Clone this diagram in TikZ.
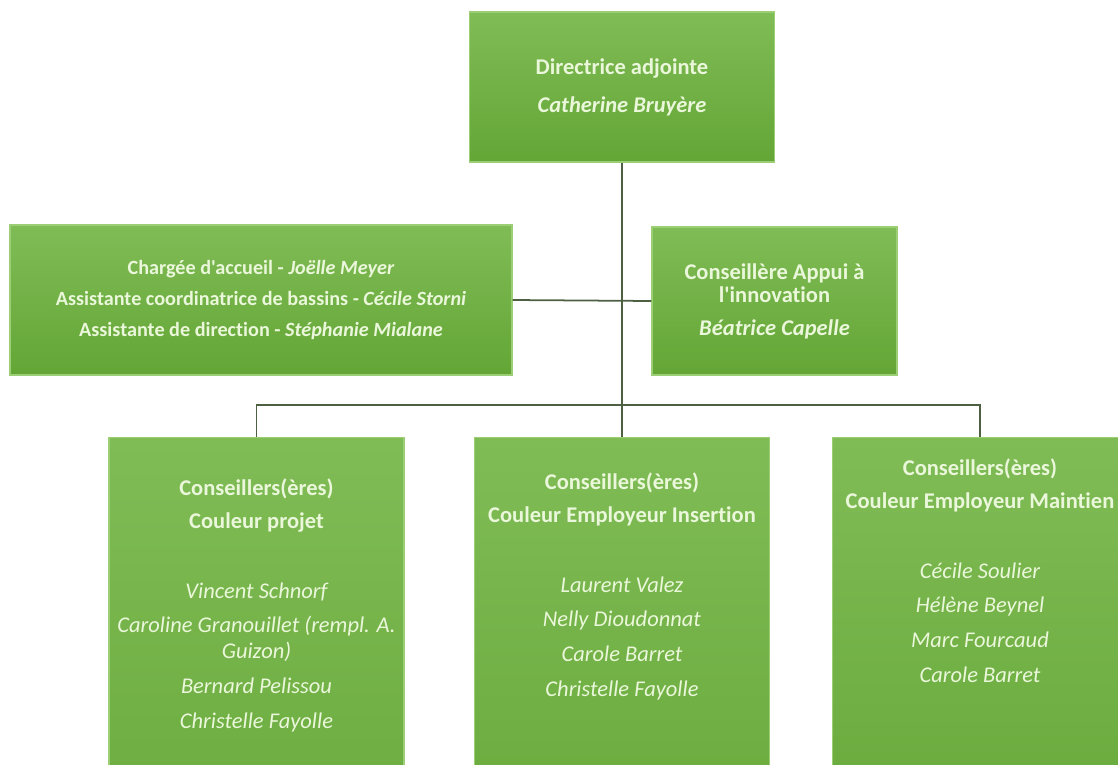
\documentclass[tikz,border=0pt]{standalone}
\usepackage{fontspec}
\setmainfont{Carlito}[Ligatures={TeXOff,NoCommon}]
\usetikzlibrary{positioning,calc}
\definecolor{boxtop}{RGB}{128,188,86}
\definecolor{boxbot}{RGB}{100,166,54}
\definecolor{boxedge}{RGB}{156,206,118}
\definecolor{boxtext}{RGB}{234,247,218}
\definecolor{linkcol}{RGB}{78,96,66}
\newcommand\nm[1]{{\mdseries\itshape #1}}

\tikzset{
  orgbox/.style={rectangle, draw=boxedge, line width=0.8pt, top color=boxtop, bottom color=boxbot,
    text=boxtext, align=center, font=\fontsize{12.8}{14.5}\selectfont\bfseries, inner sep=2pt},
  teambox/.style={orgbox, anchor=north, minimum width=5.9cm, inner xsep=2pt, inner ysep=0.82cm, text depth=4cm},
  link/.style={draw=linkcol, line width=1pt}
}

\begin{document}
\begin{tikzpicture}[x=0.02cm, y=-0.02cm]
        \useasboundingbox (0,0) rectangle (1118,764);
        \clip (0,0) rectangle (1118,764);

        \node[orgbox, minimum width=6.1cm, minimum height=3cm] (dir) at (622,87)
          {\rule{0pt}{9pt}Directrice adjointe\\[7pt]\itshape Catherine Bruyère};
        \node[orgbox, minimum width=10.04cm, minimum height=3cm, font=\fontsize{11.5}{13.5}\selectfont\bfseries]
          (accueil) at (261,300)
          {Chargée d'accueil - \textit{Joëlle Meyer}\\[4pt]
           Assistante coordinatrice de bassins - \textit{Cécile Storni}\\[4pt]
           Assistante de direction - \textit{Stéphanie Mialane}};
        \node[orgbox, minimum width=4.9cm, minimum height=2.96cm, font=\fontsize{12.8}{13.5}\selectfont\bfseries]
          (innov) at (774.5,301)
          {Conseillère Appui à\\l'innovation\\[5pt]\itshape Béatrice Capelle};

        \coordinate (hub) at (622,405);

        \node[teambox] (projet) at (256.5,437)
          {Conseillers(ères)\\[4.5pt]Couleur projet\\[25pt]
           \nm{Vincent Schnorf}\\[5.3pt]
           \nm{Caroline Granouillet (rempl. A.}\\\nm{Guizon)}\\[5.3pt]
           \nm{Bernard Pelissou}\\[5.3pt]
           \nm{Christelle Fayolle}};
        \node[teambox, inner ysep=0.7cm] (insertion) at (622,437)
          {Conseillers(ères)\\[4.5pt]Couleur Employeur Insertion\\[25pt]
           \nm{Laurent Valez}\\[5.3pt]
           \nm{Nelly Dioudonnat}\\[5.3pt]
           \nm{Carole Barret}\\[5.3pt]
           \nm{Christelle Fayolle}};
        \node[teambox, inner ysep=0.42cm] (maintien) at (980,437)
          {Conseillers(ères)\\[4.5pt]Couleur Employeur Maintien\\[25pt]
           \nm{Cécile Soulier}\\[5.3pt]
           \nm{Hélène Beynel}\\[5.3pt]
           \nm{Marc Fourcaud}\\[5.3pt]
           \nm{Carole Barret}};

        \draw[link] (dir.south) -- (hub);
        \draw[link] (accueil.east) -- (innov.west);
        \draw[link] (projet.north) |- (hub) -| (maintien.north);
        \draw[link] (hub) -- (insertion.north);
\end{tikzpicture}
\end{document}
